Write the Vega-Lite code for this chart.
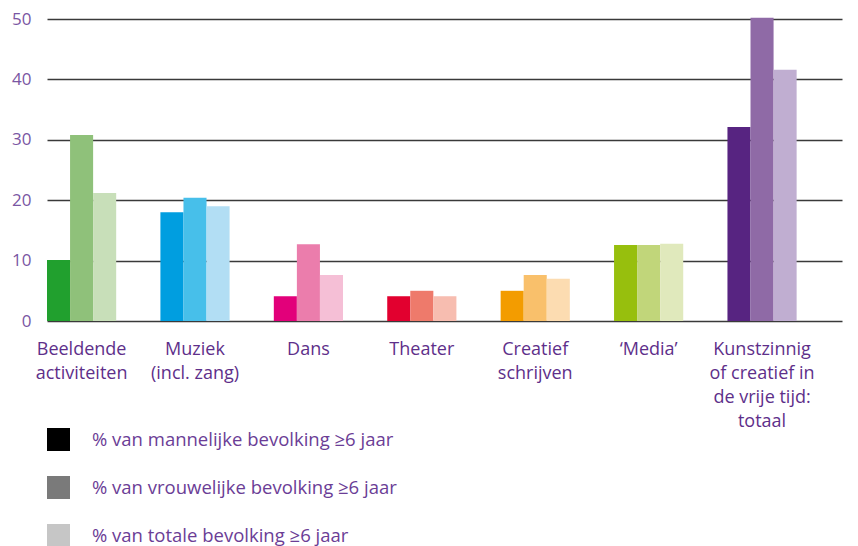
{
  "$schema": "https://vega.github.io/schema/vega-lite/v6.json",
  "width": 795,
  "height": 302,
  "autosize": "none",
  "padding": {"left": 47, "top": 19, "right": 16, "bottom": 225},
  "background": "white",
  "config": {"view": {"stroke": null}, "font": "Open Sans"},
  "data": {"values": [
    {"cat": "Beeldende|activiteiten", "serie": "% van mannelijke bevolking ≥6 jaar", "key": "B1", "value": 10.1},
    {"cat": "Beeldende|activiteiten", "serie": "% van vrouwelijke bevolking ≥6 jaar", "key": "B2", "value": 30.8},
    {"cat": "Beeldende|activiteiten", "serie": "% van totale bevolking ≥6 jaar", "key": "B3", "value": 21.2},
    {"cat": "Muziek|(incl. zang)", "serie": "% van mannelijke bevolking ≥6 jaar", "key": "M1", "value": 18.0},
    {"cat": "Muziek|(incl. zang)", "serie": "% van vrouwelijke bevolking ≥6 jaar", "key": "M2", "value": 20.4},
    {"cat": "Muziek|(incl. zang)", "serie": "% van totale bevolking ≥6 jaar", "key": "M3", "value": 19.0},
    {"cat": "Dans", "serie": "% van mannelijke bevolking ≥6 jaar", "key": "D1", "value": 4.1},
    {"cat": "Dans", "serie": "% van vrouwelijke bevolking ≥6 jaar", "key": "D2", "value": 12.7},
    {"cat": "Dans", "serie": "% van totale bevolking ≥6 jaar", "key": "D3", "value": 7.6},
    {"cat": "Theater", "serie": "% van mannelijke bevolking ≥6 jaar", "key": "T1", "value": 4.1},
    {"cat": "Theater", "serie": "% van vrouwelijke bevolking ≥6 jaar", "key": "T2", "value": 5.0},
    {"cat": "Theater", "serie": "% van totale bevolking ≥6 jaar", "key": "T3", "value": 4.1},
    {"cat": "Creatief|schrijven", "serie": "% van mannelijke bevolking ≥6 jaar", "key": "C1", "value": 5.0},
    {"cat": "Creatief|schrijven", "serie": "% van vrouwelijke bevolking ≥6 jaar", "key": "C2", "value": 7.6},
    {"cat": "Creatief|schrijven", "serie": "% van totale bevolking ≥6 jaar", "key": "C3", "value": 7.0},
    {"cat": "‘Media’", "serie": "% van mannelijke bevolking ≥6 jaar", "key": "E1", "value": 12.6},
    {"cat": "‘Media’", "serie": "% van vrouwelijke bevolking ≥6 jaar", "key": "E2", "value": 12.6},
    {"cat": "‘Media’", "serie": "% van totale bevolking ≥6 jaar", "key": "E3", "value": 12.8},
    {"cat": "Kunstzinnig|of creatief in|de vrije tijd:|totaal", "serie": "% van mannelijke bevolking ≥6 jaar", "key": "K1", "value": 32.1},
    {"cat": "Kunstzinnig|of creatief in|de vrije tijd:|totaal", "serie": "% van vrouwelijke bevolking ≥6 jaar", "key": "K2", "value": 50.2},
    {"cat": "Kunstzinnig|of creatief in|de vrije tijd:|totaal", "serie": "% van totale bevolking ≥6 jaar", "key": "K3", "value": 41.6}
  ]},
  "encoding": {
    "x": {
      "field": "cat", "type": "nominal", "sort": null,
      "scale": {"paddingInner": 0.39, "paddingOuter": 0.2, "align": 0},
      "axis": {
        "title": null, "domain": false, "ticks": false, "labelAngle": 0,
        "labelExpr": "split(datum.label, '|')",
        "labelFontSize": 18, "labelColor": "#5e2f8a", "labelPadding": 19,
        "labelLineHeight": 24, "labelBaseline": "top", "labelAlign": "center"
      }
    },
    "xOffset": {"field": "serie", "type": "nominal", "sort": null, "scale": {"paddingInner": 0, "paddingOuter": 0}},
    "y": {
      "field": "value", "type": "quantitative",
      "scale": {"domain": [0, 50], "nice": false},
      "axis": {
        "title": null, "domain": false, "ticks": false, "values": [0, 10, 20, 30, 40, 50],
        "labelFontSize": 17, "labelColor": "#7a56a3", "labelPadding": 16,
        "grid": true, "gridColor": "#3a3a3a", "gridWidth": 1.5
      }
    }
  },
  "layer": [
    {
      "mark": {"type": "bar", "width": {"band": 1}},
      "encoding": {
        "color": {
          "field": "key", "type": "nominal", "legend": null,
          "scale": {
            "domain": ["B1","B2","B3","M1","M2","M3","D1","D2","D3","T1","T2","T3","C1","C2","C3","E1","E2","E3","K1","K2","K3"],
            "range": ["#21a02e","#8fc17a","#c8dfb9","#009ee0","#47bfea","#b2def4","#e2007a","#eb7dac","#f5bfd6","#e2002f","#ee7a6b","#f7bdb0","#f39c00","#f9c06b","#fcdcb1","#97bf0d","#c1d67a","#e0e9bc","#572481","#8f6aa6","#c0aed1"]
          }
        }
      }
    },
    {
      "mark": {"type": "square", "opacity": 0},
      "encoding": {
        "color": {
          "field": "serie", "type": "nominal", "sort": null,
          "scale": {
            "domain": ["% van mannelijke bevolking ≥6 jaar", "% van vrouwelijke bevolking ≥6 jaar", "% van totale bevolking ≥6 jaar"],
            "range": ["#000000", "#7a7a7a", "#c6c6c6"]
          },
          "legend": {
            "title": null, "orient": "none", "legendX": 0, "legendY": 409,
            "symbolType": "square", "symbolSize": 529, "symbolOpacity": 1, "symbolStrokeWidth": 0,
            "labelFontSize": 18.5, "labelColor": "#6b3d96", "labelOffset": 22, "rowPadding": 25,
            "padding": 0, "labelLimit": 500
          }
        }
      }
    },
    {
      "mark": {"type": "rule", "color": "#000000", "strokeWidth": 3},
      "encoding": {"y": {"datum": 0}}
    }
  ],
  "resolve": {"scale": {"color": "independent"}}
}
